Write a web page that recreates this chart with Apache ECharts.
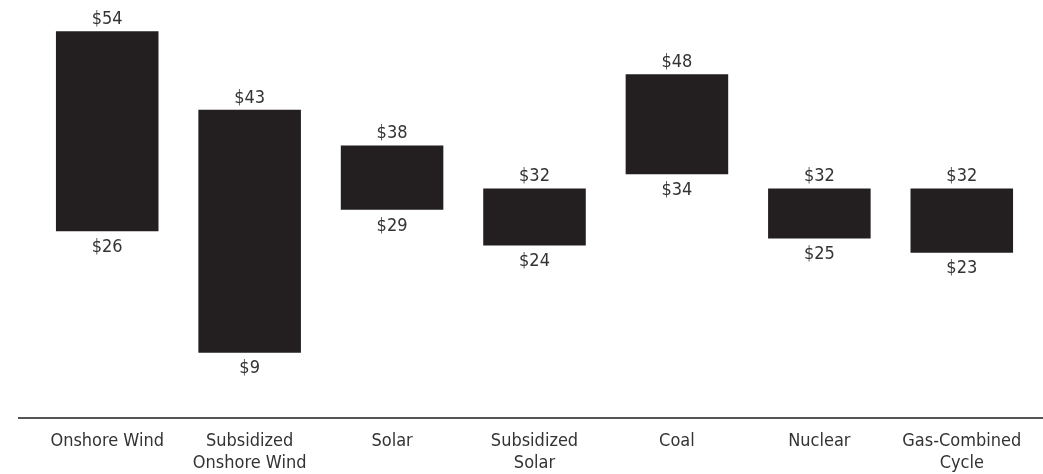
<!DOCTYPE html>
<html>
<head>
<meta charset="utf-8">
<script src="https://cdn.jsdelivr.net/npm/echarts@6/dist/echarts.min.js"></script>
<style>
  html, body { margin: 0; padding: 0; background: #fff; }
  #chart { width: 1043px; height: 474px; }
</style>
</head>
<body>
<div id="chart"></div>
<script>
const categories = ['Onshore Wind', 'Subsidized\nOnshore Wind', 'Solar', 'Subsidized\nSolar', 'Coal', 'Nuclear', 'Gas-Combined\nCycle'];
const lowValues = [26, 9, 29, 24, 34, 25, 23];
const highValues = [54, 43, 38, 32, 48, 32, 32];

const fontFamily = '"Liberation Sans Narrow", "DejaVu Sans Condensed", "Roboto", sans-serif';
const spans = highValues.map((h, i) => h - lowValues[i]);

const chart = echarts.init(document.getElementById('chart'));
const option = {
  animation: false,
  textStyle: { fontFamily: fontFamily },
  grid: { left: 36, right: 10, top: 17, bottom: 56 },
  xAxis: {
    type: 'category',
    data: categories,
    axisLine: { show: false },
    axisTick: { show: false },
    axisLabel: {
      color: '#333',
      fontSize: 18,
      lineHeight: 22,
      margin: 13,
      fontFamily: fontFamily,
      interval: 0
    }
  },
  yAxis: {
    type: 'value',
    min: 0,
    max: 56,
    show: false,
    splitLine: { show: false }
  },
  graphic: [{
    type: 'line',
    shape: { x1: 18, y1: 418, x2: 1043, y2: 418 },
    style: { stroke: '#555', lineWidth: 2 }
  }],
  series: [
    {
      type: 'bar',
      stack: 'range',
      data: lowValues,
      barCategoryGap: '28%',
      itemStyle: { color: 'transparent' },
      label: {
        show: true,
        position: 'insideTop',
        distance: 7,
        formatter: p => '$' + p.value,
        color: '#333',
        fontSize: 18,
        fontFamily: fontFamily
      }
    },
    {
      type: 'bar',
      stack: 'range',
      data: spans,
      barCategoryGap: '28%',
      itemStyle: { color: '#231f20' },
      label: {
        show: true,
        position: 'top',
        distance: 3,
        formatter: p => '$' + highValues[p.dataIndex],
        color: '#333',
        fontSize: 18,
        fontFamily: fontFamily
      }
    }
  ]
};
chart.setOption(option);
</script>
</body>
</html>
